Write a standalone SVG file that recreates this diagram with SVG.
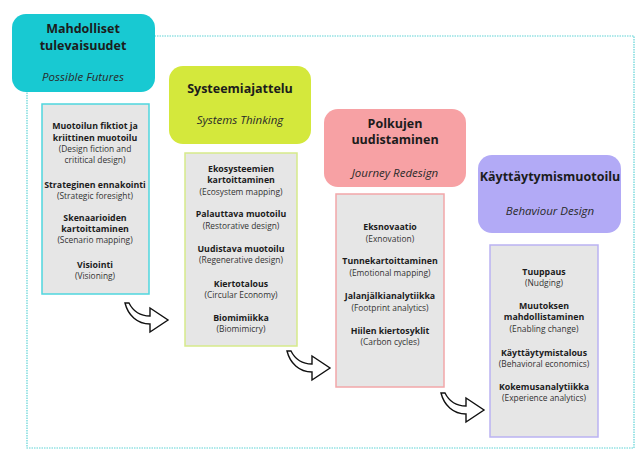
<svg xmlns="http://www.w3.org/2000/svg" width="643" height="466" viewBox="0 0 643 466">
<defs>
<style>
.bg{fill:#ffffff}
.frame{fill:none;stroke:#5fd3d6;stroke-width:1.2;stroke-dasharray:1.5 1}
.hd{font-family:"Open Sans","Noto Sans","DejaVu Sans",sans-serif;font-size:12.5px;font-weight:bold;fill:#1c1c1c;text-anchor:middle}
.hi{font-family:"Open Sans","Noto Sans","DejaVu Sans",sans-serif;font-size:11.5px;font-style:italic;fill:#2a2a2a;text-anchor:middle}
.tb{font-family:"Open Sans","Noto Sans","DejaVu Sans",sans-serif;font-size:8.8px;font-weight:bold;fill:#1c1c1c;text-anchor:middle}
.tr{font-family:"Open Sans","Noto Sans","DejaVu Sans",sans-serif;font-size:8.4px;fill:#333333;text-anchor:middle}
.card{fill:#e6e6e6;stroke-width:1.5}
.arrow{fill:#ffffff;stroke:#111111;stroke-width:1.4;stroke-linejoin:miter}
</style>
<path id="curv" d="M0,0 C3,12 12,21 25,21 L25,29 L43,17 L25,5 L25,13 C15,13 8,8 4,0 Z"/>
</defs>
<rect class="bg" x="0" y="0" width="643" height="466"/>
<rect class="frame" x="27" y="36" width="607" height="412"/>

<g id="node-futures">
<rect x="12" y="14" width="143" height="78" rx="14" fill="#18c9d2"/>
<text class="hd" x="83" y="33">Mahdolliset</text>
<text class="hd" x="83" y="50">tulevaisuudet</text>
<text class="hi" x="83" y="81">Possible Futures</text>
</g>
<g id="node-futures-list">
<rect class="card" x="42" y="104" width="107" height="190" stroke="#4fd6de"/>
<text class="tb" x="95" y="128.5">Muotoilun fiktiot ja</text>
<text class="tb" x="95" y="141">kriittinen muotoilu</text>
<text class="tr" x="95" y="152">(Design fiction and</text>
<text class="tr" x="95" y="163">crititical design)</text>
<text class="tb" x="95" y="188">Strateginen ennakointi</text>
<text class="tr" x="95" y="199">(Strategic foresight)</text>
<text class="tb" x="95" y="220.5">Skenaarioiden</text>
<text class="tb" x="95" y="232">kartoittaminen</text>
<text class="tr" x="95" y="243">(Scenario mapping)</text>
<text class="tb" x="95" y="268">Visiointi</text>
<text class="tr" x="95" y="279">(Visioning)</text>
</g>

<g id="node-systems">
<rect x="169" y="66" width="142" height="78" rx="14" fill="#d4e83c"/>
<text class="hd" x="240" y="93">Systeemiajattelu</text>
<text class="hi" x="240" y="124">Systems Thinking</text>
</g>
<g id="node-systems-list">
<rect class="card" x="185" y="153" width="112" height="193" stroke="#d6ea8a"/>
<text class="tb" x="241" y="171.5">Ekosysteemien</text>
<text class="tb" x="241" y="183">kartoittaminen</text>
<text class="tr" x="241" y="195">(Ecosystem mapping)</text>
<text class="tb" x="241" y="217">Palauttava muotoilu</text>
<text class="tr" x="241" y="229">(Restorative design)</text>
<text class="tb" x="241" y="252">Uudistava muotoilu</text>
<text class="tr" x="241" y="263">(Regenerative design)</text>
<text class="tb" x="241" y="287">Kiertotalous</text>
<text class="tr" x="241" y="298">(Circular Economy)</text>
<text class="tb" x="241" y="321">Biomimiikka</text>
<text class="tr" x="241" y="332">(Biomimicry)</text>
</g>

<g id="node-journey">
<rect x="324" y="109" width="142" height="78" rx="14" fill="#f7a1a4"/>
<text class="hd" x="395" y="128">Polkujen</text>
<text class="hd" x="395" y="144">uudistaminen</text>
<text class="hi" x="395" y="177">Journey Redesign</text>
</g>
<g id="node-journey-list">
<rect class="card" x="336" y="194" width="108" height="193" stroke="#f2a7a9"/>
<text class="tb" x="390" y="230">Eksnovaatio</text>
<text class="tr" x="390" y="242">(Exnovation)</text>
<text class="tb" x="390" y="264">Tunnekartoittaminen</text>
<text class="tr" x="390" y="276">(Emotional mapping)</text>
<text class="tb" x="390" y="299">Jalanjälkianalytiikka</text>
<text class="tr" x="390" y="310.5">(Footprint analytics)</text>
<text class="tb" x="390" y="334">Hiilen kiertosyklit</text>
<text class="tr" x="390" y="345">(Carbon cycles)</text>
</g>

<g id="node-behaviour">
<rect x="478" y="155" width="143" height="78" rx="14" fill="#b2aaf6"/>
<text class="hd" x="550" y="181">Käyttäytymismuotoilu</text>
<text class="hi" x="550" y="215">Behaviour Design</text>
</g>
<g id="node-behaviour-list">
<rect class="card" x="490" y="245" width="108" height="192" stroke="#bab2f2"/>
<text class="tb" x="544" y="275">Tuuppaus</text>
<text class="tr" x="544" y="286">(Nudging)</text>
<text class="tb" x="544" y="308.5">Muutoksen</text>
<text class="tb" x="544" y="320">mahdollistaminen</text>
<text class="tr" x="544" y="332">(Enabling change)</text>
<text class="tb" x="544" y="355.5">Käyttäytymistalous</text>
<text class="tr" x="544" y="366.5">(Behavioral economics)</text>
<text class="tb" x="544" y="390">Kokemusanalytiikka</text>
<text class="tr" x="544" y="401">(Experience analytics)</text>
</g>

<g id="connectors">
<use href="#curv" class="arrow" transform="translate(125,303)"/>
<use href="#curv" class="arrow" transform="translate(287,351)"/>
<use href="#curv" class="arrow" transform="translate(441,393)"/>
</g>
</svg>
